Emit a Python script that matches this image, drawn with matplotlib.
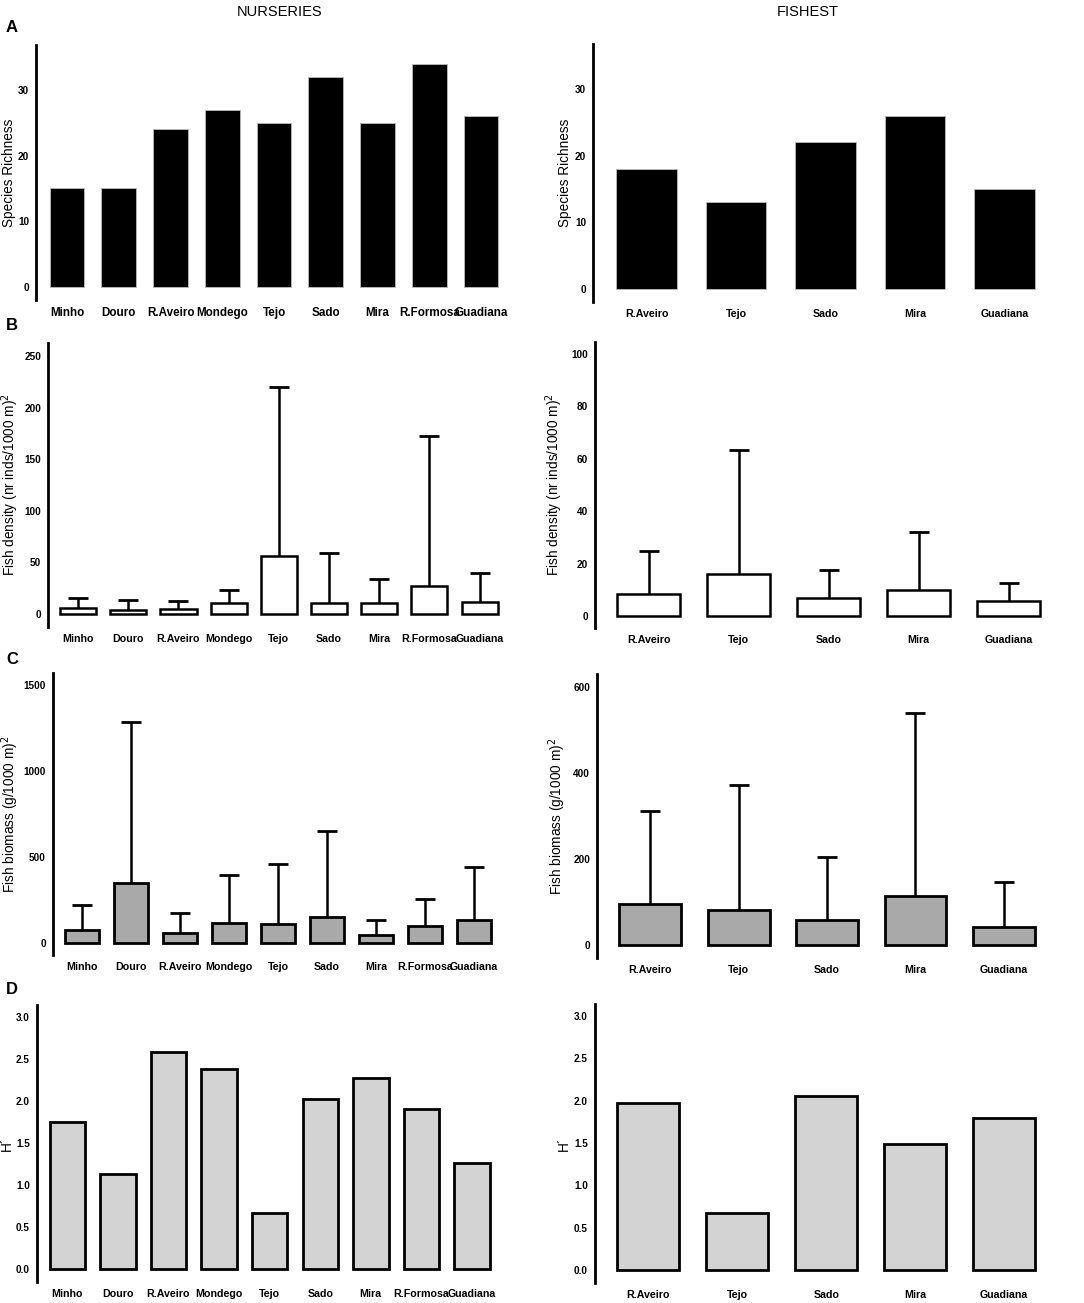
import matplotlib
matplotlib.use("Agg")
import matplotlib.pyplot as plt

plt.rcParams['font.family'] = ['Liberation Sans', 'DejaVu Sans']

# sites
nursery_sites = ['Minho', 'Douro', 'R.Aveiro', 'Mondego', 'Tejo', 'Sado', 'Mira', 'R.Formosa', 'Guadiana']
fishest_sites = ['R.Aveiro', 'Tejo', 'Sado', 'Mira', 'Guadiana']

# A - species richness
richness_nur = [15, 15, 24, 27, 25, 32, 25, 34, 26]
richness_fish = [18, 13, 22, 26, 15]

# B - fish density (mean and upper whisker)
density_nur = [5.5, 4.2, 4.5, 10.6, 56, 11, 11, 27.5, 11.6]
density_nur_top = [15.8, 13.2, 12.9, 23.5, 220, 59, 34, 172, 39.7]
density_fish = [8.3, 15.9, 6.9, 9.8, 5.6]
density_fish_top = [24.8, 63.3, 17.5, 32, 12.7]

# C - fish biomass (mean and upper whisker)
biomass_nur = [78, 347, 56, 118, 108, 149, 48, 97, 136]
biomass_nur_top = [223, 1285, 172, 393, 457, 653, 134, 254, 444]
biomass_fish = [96, 82, 59, 114, 42.5]
biomass_fish_top = [312, 371, 205, 540, 146]

# D - Shannon diversity
shannon_nur = [1.75, 1.13, 2.58, 2.38, 0.67, 2.02, 2.27, 1.90, 1.26]
shannon_fish = [1.97, 0.67, 2.055, 1.49, 1.80]

W, H = 1084, 1303
fig = plt.figure(figsize=(W / 100, H / 100), dpi=100)


def make_ax(left, top, bottom, spacing, n, ylim, yticks, ylabel, label_x, ticklabels,
            tickfs=7.7, yticklabels=None):
    width = n * spacing
    ax = fig.add_axes([left / W, 1 - bottom / H, width / W, (bottom - top) / H])
    ax.set_xlim(-0.6, n - 0.4)
    ax.set_ylim(*ylim)
    for s in ['top', 'right', 'bottom']:
        ax.spines[s].set_visible(False)
    ax.spines['left'].set_linewidth(2)
    ax.set_yticks(yticks)
    if yticklabels is not None:
        ax.set_yticklabels(yticklabels)
    ax.set_xticks(range(n))
    ax.set_xticklabels(ticklabels, fontsize=tickfs, fontweight='bold')
    ax.tick_params(axis='both', length=0)
    ax.tick_params(axis='y', labelsize=7.2, pad=5)
    ax.tick_params(axis='x', pad=5)
    for t in ax.get_yticklabels():
        t.set_fontweight('bold')
    ax.set_ylabel(ylabel, fontsize=9.8)
    # label_x is the label's centre in pixels; the label is anchored at its lower (right) side
    ax.yaxis.set_label_coords((label_x + 6 - left) / width, 0.5)
    return ax


def whiskers(ax, means, tops):
    x = range(len(means))
    ax.vlines(x, means, tops, color='black', lw=1.8, zorder=1)
    ax.plot(x, tops, ls='none', marker='_', ms=14, mew=2, color='black', zorder=1)


# A
ax = make_ax(36, 45, 300, 52.9, 9, (-1.98, 36.85), [0, 10, 20, 30], 'Species Richness', 10,
             nursery_sites, tickfs=8.4)
ax.bar(range(9), richness_nur, width=0.67, color='black', edgecolor='#bbbbbb', lw=0.6)
ax = make_ax(593, 44, 302, 93, 5, (-1.95, 36.75), [0, 10, 20, 30], 'Species Richness', 566,
             fishest_sites)
ax.bar(range(5), richness_fish, width=0.68, color='black', edgecolor='#bbbbbb', lw=0.6)

# B
dens_label = 'Fish density (nr inds/1000 m)$^2$'
ax = make_ax(48, 343, 627, 51.3, 9, (-12.6, 262.6), [0, 50, 100, 150, 200, 250], dens_label, 15,
             nursery_sites)
whiskers(ax, density_nur, density_nur_top)
ax.bar(range(9), density_nur, width=0.72, color='white', edgecolor='black', lw=1.8, zorder=2)
ax = make_ax(595, 342, 628, 93.5, 5, (-4.6, 104.6), [0, 20, 40, 60, 80, 100], dens_label, 559,
             fishest_sites)
whiskers(ax, density_fish, density_fish_top)
ax.bar(range(5), density_fish, width=0.70, color='white', edgecolor='black', lw=1.8, zorder=2)

# C
bio_label = 'Fish biomass (g/1000 m)$^2$'
ax = make_ax(53, 673, 955, 50, 9, (-70, 1570), [0, 500, 1000, 1500], bio_label, 15,
             nursery_sites)
whiskers(ax, biomass_nur, biomass_nur_top)
ax.bar(range(9), biomass_nur, width=0.70, color='#a9a9a9', edgecolor='black', lw=2, zorder=2)
ax = make_ax(597, 674, 958, 92, 5, (-30, 630), [0, 200, 400, 600], bio_label, 562,
             fishest_sites)
whiskers(ax, biomass_fish, biomass_fish_top)
ax.bar(range(5), biomass_fish, width=0.70, color='#a9a9a9', edgecolor='black', lw=2, zorder=2)

# D
hticks = [0, 0.5, 1.0, 1.5, 2.0, 2.5, 3.0]
hlabels = ['0.0', '0.5', '1.0', '1.5', '2.0', '2.5', '3.0']
ax = make_ax(37, 1005, 1282, 51.7, 9, (-0.155, 3.14), hticks, 'H´', 8, nursery_sites,
             yticklabels=hlabels)
ax.bar(range(9), shannon_nur, width=0.70, color='#d3d3d3', edgecolor='black', lw=2)
ax = make_ax(595, 1004, 1283, 92.5, 5, (-0.153, 3.14), hticks, 'H´', 565, fishest_sites,
             yticklabels=hlabels)
ax.bar(range(5), shannon_fish, width=0.70, color='#d3d3d3', edgecolor='black', lw=2)

# column titles and panel letters
fig.text(280 / W, 1 - 12 / H, 'NURSERIES', ha='center', va='center', fontsize=10.5)
fig.text(808 / W, 1 - 12 / H, 'FISHEST', ha='center', va='center', fontsize=10.5)
for letter, y in [('A', 28), ('B', 326), ('C', 659), ('D', 989)]:
    fig.text(6 / W, 1 - y / H, letter, ha='left', va='center', fontsize=12, fontweight='bold')

fig.savefig('out.png', dpi=100)
